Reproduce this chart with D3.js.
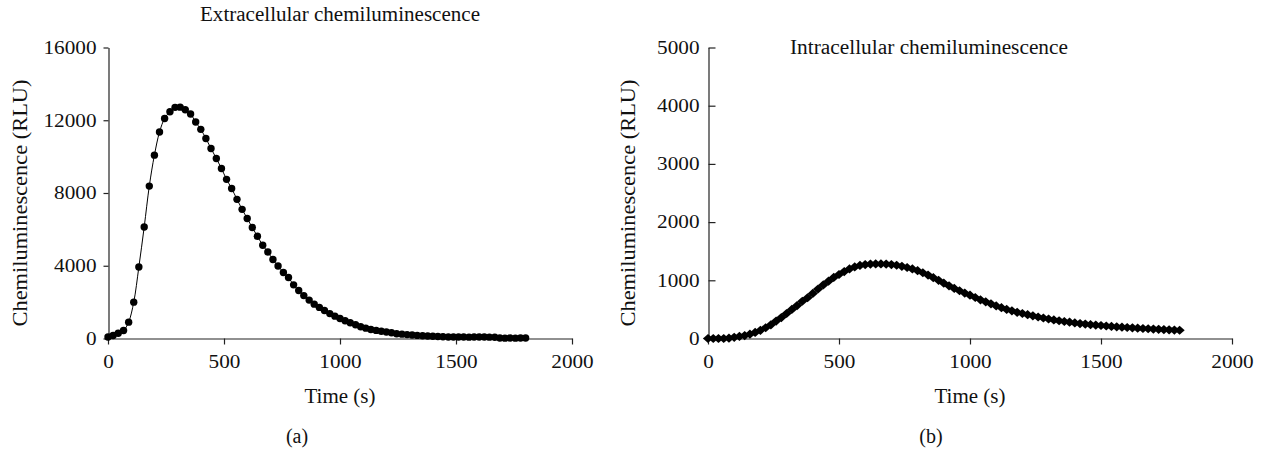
<!DOCTYPE html>
<html>
<head>
<meta charset="utf-8">
<script src="https://cdn.jsdelivr.net/npm/d3@7"></script>
<style>
  body { margin: 0; background: #fff; }
  svg { display: block; }
  text { font-family: "Liberation Serif", "Times New Roman", serif; fill: #111; }
</style>
</head>
<body>
<svg id="chart" width="1261" height="452"></svg>
<script>
// Extracellular chemiluminescence (panel a), RLU
var extraTimes = [0, 22, 44, 67, 89, 111, 133, 156, 178, 200, 222, 244, 267, 289, 311, 333, 356, 378, 400, 422,
    444, 467, 489, 511, 533, 556, 578, 600, 622, 644, 667, 689, 711, 733, 756, 778, 800, 822, 844, 867,
    889, 911, 933, 956, 978, 1000, 1022, 1044, 1067, 1089, 1111, 1133, 1156, 1178, 1200, 1222, 1244, 1267, 1289, 1311,
    1333, 1356, 1378, 1400, 1422, 1444, 1467, 1489, 1511, 1533, 1556, 1578, 1600, 1622, 1644, 1667, 1689, 1711, 1733, 1756,
    1778, 1800];
var extraValues = [80, 165, 290, 440, 900, 2000, 3930, 6130, 8380, 10080, 11350, 12100, 12470, 12710, 12720, 12580, 12340, 11900, 11500, 11000,
    10450, 9900, 9350, 8750, 8250, 7650, 7100, 6600, 6100, 5620, 5130, 4760, 4340, 3990, 3630, 3350, 2950, 2640, 2360, 2110,
    1890, 1710, 1540, 1370, 1230, 1100, 980, 870, 760, 650, 570, 495, 445, 400, 360, 315, 265, 240, 215, 190,
    170, 150, 135, 120, 110, 95, 85, 80, 85, 80, 75, 80, 85, 80, 75, 70, 30, 20, 25, 20,
    25, 30];

// Intracellular chemiluminescence (panel b), RLU
var intraTimes = [0, 20, 40, 60, 80, 100, 120, 140, 160, 180, 200, 220, 240, 260, 280, 300, 320, 340, 360, 380,
    400, 420, 440, 460, 480, 500, 520, 540, 560, 580, 600, 620, 640, 660, 680, 700, 720, 740, 760, 780,
    800, 820, 840, 860, 880, 900, 920, 940, 960, 980, 1000, 1020, 1040, 1060, 1080, 1100, 1120, 1140, 1160, 1180,
    1200, 1220, 1240, 1260, 1280, 1300, 1320, 1340, 1360, 1380, 1400, 1420, 1440, 1460, 1480, 1500, 1520, 1540, 1560, 1580,
    1600, 1620, 1640, 1660, 1680, 1700, 1720, 1740, 1760, 1780, 1800];
var intraValues = [0, 0, 0, 0, 5, 20, 35, 50, 75, 105, 140, 185, 235, 300, 360, 430, 500, 565, 640, 700,
    775, 850, 920, 985, 1050, 1100, 1150, 1195, 1230, 1255, 1270, 1278, 1282, 1282, 1278, 1270, 1258, 1240, 1220, 1195,
    1165, 1130, 1090, 1045, 1000, 950, 905, 860, 820, 780, 745, 705, 665, 630, 595, 560, 530, 500, 475, 450,
    430, 410, 390, 370, 352, 335, 320, 305, 292, 280, 268, 257, 247, 238, 230, 223, 215, 208, 201, 195,
    189, 183, 177, 172, 167, 162, 157, 153, 149, 145, 142];

var xTicks = [0, 500, 1000, 1500, 2000];
var extraYTicks = [0, 4000, 8000, 12000, 16000];
var intraYTicks = [0, 1000, 2000, 3000, 4000, 5000];

var svg = d3.select("#chart");

// diamond marker, a bit wider than d3's own
var diamond = {
    draw: function (ctx, size) {
        var r = Math.sqrt(size);
        ctx.moveTo(0, -r * 0.9);
        ctx.lineTo(r, 0);
        ctx.lineTo(0, r * 0.9);
        ctx.lineTo(-r, 0);
        ctx.closePath();
    }
};

function drawPanel(p) {
    var x = d3.scaleLinear().domain([0, 2000]).range([p.left, p.right]);
    var y = d3.scaleLinear().domain([0, p.yMax]).range([338.5, 47.5]);

    // x axis
    var gx = svg.append("g")
        .attr("transform", "translate(0,338.5)")
        .call(d3.axisBottom(x).tickValues(xTicks).tickSize(6).tickSizeOuter(0).tickPadding(11).tickFormat(d3.format("d")));

    // y axis
    var gy = svg.append("g")
        .attr("transform", "translate(" + (p.left + 0.5) + ",0)")
        .call(d3.axisLeft(y).tickValues(p.yTicks).tickSize(p.yTickSize).tickSizeOuter(0).tickPadding(p.yPad).tickFormat(d3.format("d")));

    [gx, gy].forEach(function (g) {
        g.select(".domain").attr("stroke", "#222").attr("stroke-width", 1.2);
        g.selectAll(".tick line").attr("stroke", "#222").attr("stroke-width", 1.2);
        g.selectAll(".tick text")
            .style("font-size", "18px")
            .attr("fill", "#111")
            .attr("textLength", function (d) { return String(d).length * 10.6; })
            .attr("lengthAdjust", "spacingAndGlyphs");
        g.attr("font-family", null).attr("font-size", null);
    });

    var pts = p.times.map(function (t, i) { return [t, p.values[i]]; });

    // thin connecting line
    svg.append("path")
        .datum(pts)
        .attr("fill", "none")
        .attr("stroke", "#000")
        .attr("stroke-width", 1)
        .attr("d", d3.line()
            .x(function (d) { return x(d[0]); })
            .y(function (d) { return y(d[1]); })
            .curve(d3.curveCatmullRom));

    if (p.marker === "circle") {
        svg.append("g").selectAll("circle")
            .data(pts).enter().append("circle")
            .attr("cx", function (d) { return x(d[0]); })
            .attr("cy", function (d) { return y(d[1]); })
            .attr("r", 3.7)
            .attr("fill", "#000");
    } else {
        svg.append("g").selectAll("path")
            .data(pts).enter().append("path")
            .attr("transform", function (d) { return "translate(" + x(d[0]) + "," + y(d[1]) + ")"; })
            .attr("d", d3.symbol().type(diamond).size(26))
            .attr("fill", "#000");
    }

    // titles and labels
    svg.append("text")
        .attr("x", p.titleX).attr("y", p.titleY)
        .attr("text-anchor", "middle")
        .style("font-size", "20px")
        .attr("textLength", p.titleLen).attr("lengthAdjust", "spacingAndGlyphs")
        .text(p.title);

    svg.append("text")
        .attr("x", (p.left + p.right) / 2).attr("y", 403)
        .attr("text-anchor", "middle")
        .style("font-size", "20px")
        .attr("textLength", 71).attr("lengthAdjust", "spacingAndGlyphs")
        .text("Time (s)");

    svg.append("text")
        .attr("transform", "translate(" + p.yLabelX + ",203) rotate(-90)")
        .attr("text-anchor", "middle")
        .style("font-size", "20px")
        .attr("textLength", 247).attr("lengthAdjust", "spacingAndGlyphs")
        .text("Chemiluminescence (RLU)");

    svg.append("text")
        .attr("x", p.tagX).attr("y", 443)
        .attr("text-anchor", "middle")
        .style("font-size", "20px")
        .text(p.tag);
}

drawPanel({
    left: 108, right: 572, yMax: 16000, yTicks: extraYTicks, yTickSize: 5, yPad: 7,
    times: extraTimes, values: extraValues, marker: "circle",
    title: "Extracellular chemiluminescence", titleX: 340, titleY: 21, titleLen: 280,
    yLabelX: 27, tag: "(a)", tagX: 297
});

drawPanel({
    left: 708, right: 1232, yMax: 5000, yTicks: intraYTicks, yTickSize: -7, yPad: 9,
    times: intraTimes, values: intraValues, marker: "diamond",
    title: "Intracellular chemiluminescence", titleX: 929, titleY: 54, titleLen: 278,
    yLabelX: 635, tag: "(b)", tagX: 931
});
</script>
</body>
</html>
